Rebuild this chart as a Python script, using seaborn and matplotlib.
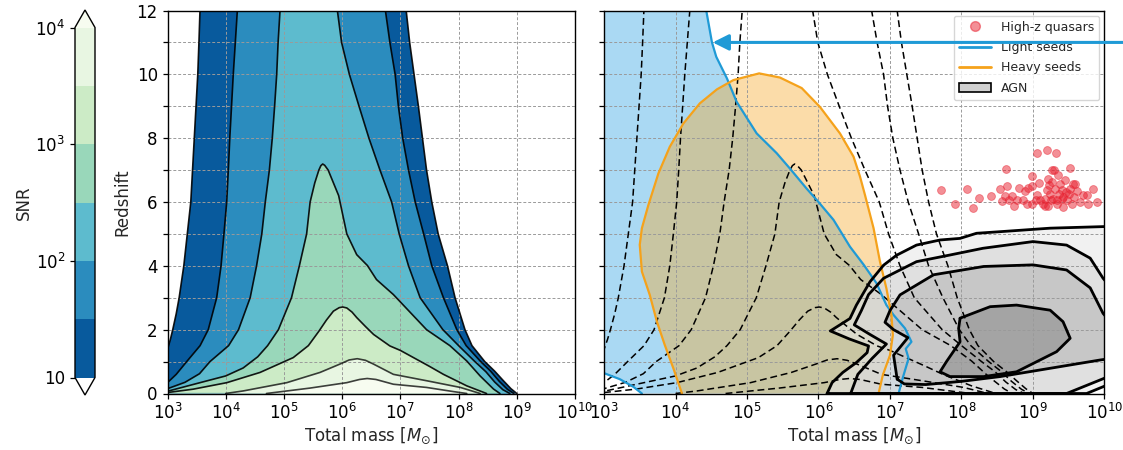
import numpy as np
import matplotlib
matplotlib.use("Agg")
import matplotlib.pyplot as plt
import seaborn as sns
from matplotlib.colors import ListedColormap, BoundaryNorm, LogNorm
from matplotlib.cm import ScalarMappable
from matplotlib.patches import Patch
from matplotlib.lines import Line2D
from matplotlib.ticker import FixedLocator, NullLocator

# ---------------- data (log10 total mass, redshift) ----------------
snr_levels = [10, 10**1.5, 100, 10**2.5, 1000, 10**3.5, 10000]
cbar_ticks = [10, 100, 1000, 10000]
cbar_ticklabels = ["10", r"$\mathdefault{10^{2}}$", r"$\mathdefault{10^{3}}$", r"$\mathdefault{10^{4}}$"]

c10_logm = [2.80, 2.95, 3.00, 3.05, 3.09, 3.15, 3.20, 3.28, 3.34, 3.40, 3.43, 3.46, 3.49, 3.52, 3.54, 3.558, 3.57,
            7.12, 7.10, 7.16, 7.235, 7.31, 7.38, 7.45, 7.54, 7.65, 7.81, 7.94, 8.11, 8.23, 8.45, 8.62, 8.77, 8.90, 9.00]
c10_z = [0.00, 1.00, 1.38, 1.70, 2.00, 2.50, 3.00, 4.00, 5.00, 6.00, 7.00, 8.00, 9.00, 10.0, 11.0, 12.0, 12.5,
         12.5, 12.0, 11.0, 10.0, 9.00, 8.00, 7.00, 6.00, 5.00, 4.00, 3.00, 2.00, 1.50, 1.00, 0.70, 0.40, 0.15, 0.00]

c31_logm = [2.80, 3.00, 3.15, 3.33, 3.56, 3.70, 3.845, 3.92, 3.97, 4.017, 4.045, 4.07, 4.10, 4.13, 4.165, 4.20, 4.21,
            6.73, 6.743, 6.82, 6.91, 6.966, 7.04, 7.14, 7.255, 7.40, 7.54, 7.74, 7.97, 8.13, 8.38, 8.55, 8.70, 8.84, 8.95]
c31_z = [0.05, 0.34, 0.60, 1.00, 1.50, 2.00, 3.00, 4.00, 5.00, 6.00, 7.00, 8.00, 9.00, 10.0, 11.0, 12.0, 12.5,
         12.5, 12.0, 11.0, 10.0, 9.00, 8.00, 7.00, 6.00, 5.00, 4.00, 3.00, 2.00, 1.50, 1.00, 0.70, 0.38, 0.13, 0.00]

c100_logm = [2.80, 3.00, 3.30, 3.55, 3.73, 4.05, 4.22, 4.42, 4.53, 4.62, 4.68, 4.75, 4.80, 4.84, 4.876, 4.90, 4.933, 4.94,
             5.90, 5.918, 5.99, 6.124, 6.29, 6.46, 6.65, 6.85, 6.98, 7.14, 7.34, 7.73, 8.00, 8.28, 8.47, 8.62, 8.76, 8.88]
c100_z = [0.02, 0.15, 0.35, 0.62, 1.00, 1.50, 2.00, 3.00, 4.00, 5.00, 6.00, 7.00, 8.00, 9.00, 10.0, 11.0, 12.0, 12.5,
          12.5, 12.0, 11.0, 10.0, 9.00, 8.00, 7.00, 6.00, 5.00, 4.00, 3.00, 2.00, 1.50, 1.00, 0.68, 0.36, 0.12, 0.00]

c316_logm = [2.90, 3.00, 3.56, 4.00, 4.30, 4.55, 4.72, 4.905, 5.13, 5.265, 5.39, 5.45, 5.53, 5.60, 5.635, 5.666, 5.70,
             5.76, 5.85, 5.94, 6.08, 6.25, 6.434, 6.59, 6.88, 7.45, 7.85, 8.14, 8.37, 8.60, 8.71]
c316_z = [0.00, 0.07, 0.34, 0.55, 0.80, 1.15, 1.50, 2.00, 3.00, 4.00, 5.00, 6.00, 6.60, 7.00, 7.14, 7.19, 7.15,
          7.00, 6.60, 6.20, 5.00, 4.35, 4.01, 3.57, 3.10, 2.00, 1.50, 1.02, 0.55, 0.14, 0.00]

c1000_logm = [3.00, 3.44, 4.02, 4.59, 5.16, 5.42, 5.60, 5.73, 5.85, 5.95, 6.01, 6.08, 6.17, 6.25, 6.40, 6.54,
              6.82, 7.00, 7.22, 7.50, 7.74, 8.14, 8.48]
c1000_z = [0.03, 0.135, 0.34, 0.66, 1.125, 1.50, 1.95, 2.30, 2.58, 2.69, 2.71, 2.68, 2.55, 2.38, 2.10, 1.85,
           1.49, 1.35, 1.13, 0.85, 0.60, 0.24, 0.00]

c3162_logm = [4.00, 4.30, 5.05, 5.62, 5.96, 6.12, 6.26, 6.40, 6.54, 6.88, 7.45, 8.03, 8.37]
c3162_z = [0.00, 0.08, 0.34, 0.66, 0.92, 1.05, 1.09, 1.04, 0.92, 0.60, 0.40, 0.19, 0.00]

c10000_logm = [4.70, 5.45, 6.08, 6.30, 6.43, 6.58, 6.88, 7.45, 7.91, 8.14]
c10000_z = [0.00, 0.17, 0.34, 0.44, 0.47, 0.44, 0.29, 0.19, 0.06, 0.00]

light_logm = [4.40, 4.43, 4.51, 4.57, 4.72, 4.855, 5.135, 5.415, 5.60, 5.83, 6.00, 6.21, 6.44, 6.63, 6.81,
              6.95, 7.05, 7.21, 7.30, 7.22, 7.26, 7.18, 7.12]
light_z = [12.5, 12.0, 11.0, 10.55, 9.87, 9.14, 8.15, 7.53, 7.05, 6.43, 6.00, 5.44, 4.60, 4.04, 3.46,
           2.77, 2.46, 2.04, 1.62, 1.40, 1.10, 0.50, 0.00]
light_low_logm = [3.53, 3.41, 3.22, 3.01, 2.90]
light_low_z = [0.00, 0.21, 0.45, 0.63, 0.70]

heavy_logm = [4.09, 3.97, 3.85, 3.74, 3.64, 3.53, 3.50, 3.53, 3.62, 3.76, 3.92, 4.11, 4.34, 4.58, 4.81, 5.17,
              5.46, 5.765, 6.02, 6.30, 6.49, 6.58, 6.65, 6.77, 6.86, 6.95, 7.02, 7.04, 7.00, 6.90, 6.84]
heavy_z = [0.00, 0.79, 1.52, 2.25, 3.09, 3.82, 4.66, 5.18, 5.90, 6.89, 7.73, 8.46, 9.09, 9.53, 9.82, 10.03,
           9.90, 9.57, 8.98, 8.15, 7.42, 6.80, 6.22, 5.18, 4.13, 3.29, 2.46, 1.83, 1.20, 0.58, 0.00]

agn1_logm = [6.12, 6.19, 6.34, 6.53, 6.68, 6.70, 6.43, 6.165, 6.30, 6.44, 6.53, 6.72, 6.91, 7.09, 7.37, 7.70,
             7.98, 8.21, 8.54, 9.24, 10.0, 10.1, 10.1, 10.0, 9.75]
agn1_z = [0.00, 0.34, 0.66, 0.97, 1.28, 1.49, 1.71, 1.96, 2.15, 2.35, 2.77, 3.50, 4.02, 4.33, 4.65, 4.81,
          4.86, 5.02, 5.07, 5.18, 5.23, 5.24, 0.31, 0.23, 0.00]
agn2_logm = [6.45, 6.55, 6.75, 6.95, 6.72, 6.50, 6.60, 6.70, 6.91, 7.37, 7.84, 8.30, 9.00, 9.47, 9.80, 9.98,
             10.1, 10.1, 10.0, 9.47]
agn2_z = [0.00, 0.60, 1.10, 1.55, 1.85, 2.15, 2.60, 3.10, 3.61, 4.13, 4.34, 4.55, 4.76, 4.65, 4.24, 3.61,
          3.30, 0.57, 0.48, 0.00]
agn3_logm = [7.10, 7.05, 7.25, 7.05, 6.93, 7.00, 7.14, 7.61, 8.31, 9.00, 9.47, 9.80, 9.98, 10.1, 10.1, 9.94,
             9.24, 8.54, 8.00, 7.50, 7.20]
agn3_z = [0.45, 1.20, 1.75, 2.00, 2.23, 2.60, 3.09, 3.72, 3.98, 4.03, 3.87, 3.31, 2.51, 2.20, 1.10, 1.05,
          0.79, 0.53, 0.38, 0.28, 0.30]
agn4_logm = [7.98, 8.40, 8.77, 9.24, 9.42, 9.52, 9.33, 8.77, 8.31, 7.84, 7.70, 7.79, 7.98, 7.96]
agn4_z = [2.36, 2.72, 2.77, 2.61, 2.25, 1.73, 1.31, 0.68, 0.53, 0.53, 0.68, 1.00, 1.62, 2.04]

qso_logm = [7.72, 7.91, 8.08, 8.16, 8.25, 8.41, 8.54, 8.57, 8.62, 8.63, 8.61, 8.71, 8.66, 8.74, 8.80, 8.86,
            8.89, 8.93, 8.91, 8.99, 8.99, 9.06, 9.06, 9.09, 9.10, 9.14, 9.17, 9.20, 9.21, 9.23, 9.24, 9.26,
            9.29, 9.25, 9.28, 9.31, 9.32, 9.33, 9.35, 9.37, 9.38, 9.40, 9.42, 9.45, 9.46, 9.48, 9.52, 9.52,
            9.54, 9.57, 9.59, 9.61, 9.66, 9.70, 9.75, 9.77, 9.84, 9.89, 9.17, 9.04, 9.21, 9.42, 9.50, 9.34,
            9.27, 9.19, 9.41, 8.77, 8.98, 9.56]
qso_z = [6.37, 5.93, 6.42, 5.82, 6.14, 6.19, 6.40, 6.03, 7.04, 6.49, 6.18, 6.18, 6.05, 5.86, 6.45, 6.07,
         6.34, 6.45, 5.93, 6.80, 5.95, 7.54, 6.21, 6.60, 6.05, 5.95, 5.86, 7.64, 6.73, 6.52, 6.26, 6.99,
         6.99, 6.07, 6.10, 6.42, 7.52, 5.95, 6.84, 6.26, 6.57, 6.10, 5.84, 6.68, 6.31, 6.05, 7.08, 6.42,
         5.95, 6.16, 6.57, 6.34, 6.00, 6.21, 6.21, 5.95, 6.42, 6.00, 6.10, 6.07, 5.86, 6.16, 6.26, 6.05,
         6.63, 6.39, 6.39, 6.05, 6.49, 6.57]

mass_ticks = [1e3, 1e4, 1e5, 1e6, 1e7, 1e8, 1e9, 1e10]
z_ticks = list(range(13))

# ---------------- style ----------------
sns.set_theme(style="ticks")
plt.rcParams["font.family"] = ["DejaVu Sans"]
plt.rcParams["mathtext.fontset"] = "dejavusans"
plt.rcParams["axes.edgecolor"] = "black"
plt.rcParams["axes.linewidth"] = 1.0
plt.rcParams["xtick.color"] = "black"
plt.rcParams["ytick.color"] = "black"

LIGHT_C = "#1f9ad6"
HEAVY_C = "#f5a21b"
QSO_C = "#e8202f"

cmap_base = plt.get_cmap("GnBu_r")
lognorm = LogNorm(vmin=10, vmax=1e4)
mids = [np.sqrt(snr_levels[i] * snr_levels[i + 1]) for i in range(len(snr_levels) - 1)]
band_colors = [cmap_base(lognorm(m)) for m in mids]
over_color = cmap_base(1.0)
fill_colors = band_colors + [over_color]

contours = [(c10_logm, c10_z), (c31_logm, c31_z), (c100_logm, c100_z), (c316_logm, c316_z),
            (c1000_logm, c1000_z), (c3162_logm, c3162_z), (c10000_logm, c10000_z)]

fig = plt.figure(figsize=(11.23, 4.5), dpi=100)
ax1 = fig.add_axes([167.5 / 1123, 56.5 / 450, 407.5 / 1123, 383 / 450])
ax2 = fig.add_axes([604 / 1123, 56.5 / 450, 500.5 / 1123, 383 / 450])
cax = fig.add_axes([75 / 1123, 55 / 450, 20 / 1123, 385 / 450])

def M(a):
    return 10 ** np.asarray(a, dtype=float)

# ---------------- left panel ----------------
for (lm, zz), col in zip(contours, fill_colors):
    ax1.fill(M(lm), zz, color=col, lw=0, zorder=1)
for i, (lm, zz) in enumerate(contours):
    sns.lineplot(x=M(lm), y=zz, ax=ax1, sort=False, estimator=None, color="black",
                 lw=1.2, alpha=0.9 if i < 5 else 0.75, zorder=2)

# ---------------- right panel ----------------
light_poly_x = [2.90] + light_logm + light_low_logm
light_poly_z = [12.5] + light_z + light_low_z
ax2.fill(M(light_poly_x), light_poly_z, color="#56B4E9", alpha=0.5, lw=0, zorder=1)
ax2.fill(M(heavy_logm), heavy_z, color="#f7a82a", alpha=0.40, lw=0, zorder=1.05)

agn_polys = [(agn1_logm, agn1_z), (agn2_logm, agn2_z), (agn3_logm, agn3_z), (agn4_logm, agn4_z)]
agn_grays = ["#e9e9e9", "#d6d6d6", "#b7b7b7", "#8e8e8e"]
for (lm, zz), g in zip(agn_polys, agn_grays):
    ax2.fill(M(lm), zz, color=g, alpha=0.6, lw=0, zorder=1.1)

for lm, zz in contours:
    sns.lineplot(x=M(lm), y=zz, ax=ax2, sort=False, estimator=None, color="black",
                 lw=1.1, zorder=2)
for line in ax2.get_lines():
    line.set_dashes((4.5, 2.5))

sns.lineplot(x=M(light_logm), y=light_z, ax=ax2, sort=False, estimator=None, color=LIGHT_C, lw=1.6, zorder=2.2)
sns.lineplot(x=M(light_low_logm), y=light_low_z, ax=ax2, sort=False, estimator=None, color=LIGHT_C, lw=1.6, zorder=2.2)
sns.lineplot(x=M(heavy_logm), y=heavy_z, ax=ax2, sort=False, estimator=None, color=HEAVY_C, lw=1.6, zorder=2.2)
for lm, zz in agn_polys:
    xs = list(lm) + [lm[0]]
    ys = list(zz) + [zz[0]]
    ax2.plot(M(xs), ys, color="black", lw=2.0, zorder=2.3, solid_joinstyle="round")

sns.scatterplot(x=M(qso_logm), y=qso_z, ax=ax2, color=QSO_C, alpha=0.5, s=32,
                edgecolor=QSO_C, linewidth=0.6, zorder=3)

ax2.annotate("", xy=(10 ** 4.52, 11), xytext=(10 ** 10.33, 11),
             arrowprops=dict(arrowstyle="-|>", color=LIGHT_C, lw=2.2, mutation_scale=24,
                             shrinkA=0, shrinkB=0),
             annotation_clip=False, zorder=10)

handles = [Line2D([], [], marker="o", ls="", color=QSO_C, alpha=0.5, markersize=7),
           Line2D([], [], color=LIGHT_C, lw=2),
           Line2D([], [], color=HEAVY_C, lw=2),
           Patch(facecolor="#d0d0d0", edgecolor="black", lw=1.2)]
leg = ax2.legend(handles, ["High-z quasars", "Light seeds", "Heavy seeds", "AGN"], loc="upper right",
                 fontsize=9, handlelength=2.6, framealpha=0.8, borderaxespad=0.4, labelspacing=0.6)
leg.set_zorder(5)

# ---------------- axes formatting ----------------
xlabels = [r"$\mathdefault{10^{%d}}$" % k for k in range(3, 11)]
ylabels = [str(v) if v % 2 == 0 else "" for v in z_ticks]
for ax in (ax1, ax2):
    ax.set_xscale("log")
    ax.set_xlim(1e3, 1e10)
    ax.set_ylim(0, 12)
    ax.xaxis.set_major_locator(FixedLocator(mass_ticks))
    ax.xaxis.set_minor_locator(NullLocator())
    ax.set_xticks(mass_ticks)
    ax.set_xticklabels(xlabels)
    ax.set_yticks(z_ticks)
    ax.grid(True, which="major", color="#9a9a9a", ls=(0, (3, 2)), lw=0.7)
    ax.set_axisbelow("line")
    ax.tick_params(axis="both", which="major", labelsize=12, length=3.5, width=0.9, direction="out")
    ax.set_xlabel(r"Total mass [$M_{\odot}$]", fontsize=12, labelpad=2)
    for sp in ax.spines.values():
        sp.set_visible(True)
        sp.set_color("black")
        sp.set_linewidth(1.0)
ax1.set_yticklabels(ylabels)
ax2.set_yticklabels([])
ax1.set_ylabel("Redshift", fontsize=12)
ax2.set_ylabel("")

# ---------------- colorbar ----------------
cb_cmap = ListedColormap(band_colors)
cb_cmap.set_under("white")
cb_cmap.set_over(over_color)
cb_norm = BoundaryNorm(snr_levels, cb_cmap.N)
sm = ScalarMappable(norm=cb_norm, cmap=cb_cmap)
cb = fig.colorbar(sm, cax=cax, extend="both", ticks=cbar_ticks)
cb.ax.yaxis.set_ticks_position("left")
cb.ax.yaxis.set_label_position("left")
cb.set_ticklabels(cbar_ticklabels)
cb.ax.tick_params(labelsize=12, length=3.5, width=0.9)
cb.ax.minorticks_off()
cb.set_label("SNR", fontsize=12, labelpad=2)
cb.outline.set_linewidth(1.0)

fig.savefig("out.png", dpi=100)
